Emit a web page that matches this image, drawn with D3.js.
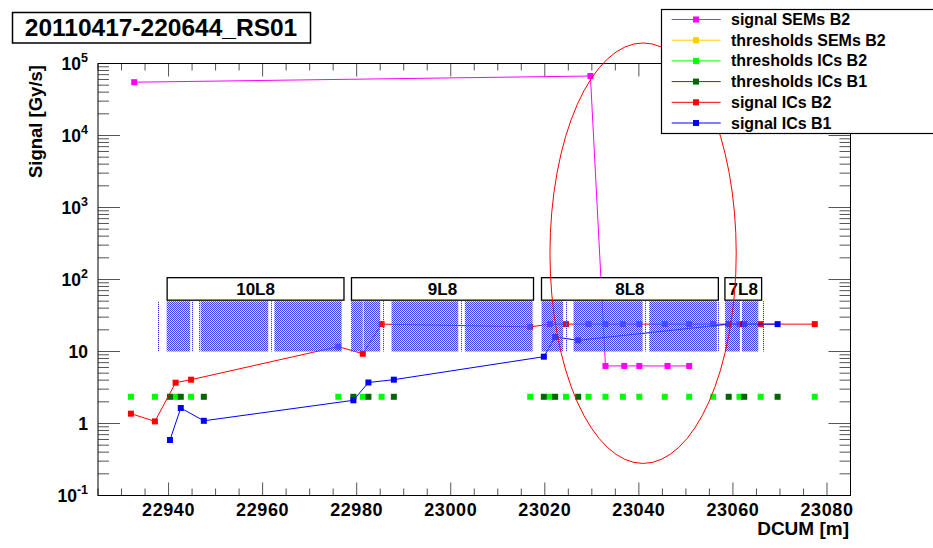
<!DOCTYPE html>
<html><head><meta charset="utf-8">
<script src="https://cdn.jsdelivr.net/npm/d3@7"></script>
<style>
body{margin:0;background:#fff;}
text{font-family:"Liberation Sans",Arial,Helvetica,sans-serif;font-weight:bold;fill:#000;}
</style>
</head><body>
<svg id="chart" width="933" height="548"></svg>
<script>
// ---------------- data ----------------
const titleText = "20110417-220644_RS01";
const xAxisTitle = "DCUM [m]";
const yAxisTitle = "Signal [Gy/s]";
const xTickValues = [22940, 22960, 22980, 23000, 23020, 23040, 23060, 23080];
const yTickExponents = [-1, 0, 1, 2, 3, 4, 5];

const semB2X = [22932.7, 23029.7, 23032.9, 23036.9, 23040.1, 23046.1, 23050.7];
const semB2Y = [55000, 67000, 6.3, 6.3, 6.3, 6.3, 6.3];

const thrSemB2X = [];
const thrSemB2Y = [];

const icB2X = [22932.0, 22937.1, 22941.5, 22944.8, 22976.1, 22981.3, 22985.3, 23016.9, 23021.1, 23024.5,
               23029.3, 23032.9, 23036.6, 23040.1, 23045.5, 23050.7, 23055.8, 23061.4, 23065.9, 23077.4];
const icB2Y = [1.37, 1.07, 3.69, 4.06, 11.7, 9.3, 24, 22, 24, 24,
               24, 24, 24, 24, 24, 24, 24, 24, 24, 24];

const icB1X = [22940.3, 22942.6, 22947.5, 22979.3, 22982.5, 22987.9, 23019.8, 23022.2, 23027.1, 23059.1, 23062.4, 23069.5];
const icB1Y = [0.59, 1.64, 1.09, 2.10, 3.71, 4.06, 8.47, 15.9, 14.3, 24, 24, 24];

const thrIcB2X = [22932.0, 22937.1, 22941.5, 22944.8, 22976.1, 22981.3, 22985.3, 23016.9, 23021.1, 23024.5,
                  23029.3, 23032.9, 23036.6, 23040.1, 23045.5, 23050.7, 23055.8, 23061.4, 23065.9, 23077.4];
const thrIcB2Y = [2.35, 2.35, 2.35, 2.35, 2.35, 2.35, 2.35, 2.35, 2.35, 2.35,
                  2.35, 2.35, 2.35, 2.35, 2.35, 2.35, 2.35, 2.35, 2.35, 2.35];
const thrIcB1X = [22940.3, 22942.6, 22947.5, 22979.3, 22982.5, 22987.9, 23019.8, 23022.2, 23027.1, 23059.1, 23062.4, 23069.5];
const thrIcB1Y = [2.35, 2.35, 2.35, 2.35, 2.35, 2.35, 2.35, 2.35, 2.35, 2.35, 2.35, 2.35];

// magnet (hatched) blocks, DCUM start / end
const magnetStart = [22939.6, 22946.8, 22962.5, 22978.8, 22981.45, 22987.4, 23003.0, 23019.3, 23026.1, 23042.2, 23058.3, 23061.9];
const magnetEnd   = [22944.6, 22961.2, 22976.8, 22981.3, 22985.0, 23001.6, 23017.4, 23023.9, 23040.8, 23056.6, 23061.5, 23065.4];
// thin element markers
const thinElements = [22937.8, 22945.05, 22946.5, 22961.7, 22985.7, 23002.1, 23024.5, 23041.3, 23056.9, 23066.3];
const magnetBandLow = 10, magnetBandHigh = 50, labelBandHigh = 106;

// cell labels
const cellNames = ["10L8", "9L8", "8L8", "7L8"];
const cellStart = [22939.7, 22978.9, 23019.3, 23058.3];
const cellEnd   = [22977.3, 23017.6, 23056.9, 23066.1];

// highlight ellipse (data space)
const ellipseCenterDcum = 23040.9, ellipseCenterSignal = 232, ellipseHalfWidthM = 19.8, ellipseHalfDecades = 2.92;

const legendLabels = ["signal SEMs B2", "thresholds SEMs B2", "thresholds ICs B2", "thresholds ICs B1", "signal ICs B2", "signal ICs B1"];
const legendColors = ["#ff00ff", "#ffcc00", "#00ff00", "#006600", "#ff0000", "#0000ff"];

// ---------------- drawing ----------------
const svg = d3.select("#chart");
const L = 98, R = 850.5, T = 63.5, B = 495.5;
const x = d3.scaleLinear().domain([22925, 23085]).range([L, R]);
const y = d3.scaleLog().domain([0.1, 1e5]).range([B, T]);

const defs = svg.append("defs");
const pat = defs.append("pattern").attr("id", "hatch").attr("patternUnits", "userSpaceOnUse")
  .attr("width", 2).attr("height", 2);
pat.append("rect").attr("x", 0).attr("y", 0).attr("width", 2).attr("height", 2).attr("fill", "rgba(150,150,250,0.38)");
pat.append("rect").attr("x", 0).attr("y", 0).attr("width", 1).attr("height", 1).attr("fill", "#3c3cea");
pat.append("rect").attr("x", 1).attr("y", 1).attr("width", 1).attr("height", 1).attr("fill", "#3c3cea");
const clip = defs.append("clipPath").attr("id", "plotclip");
clip.append("rect").attr("x", L).attr("y", T).attr("width", R - L).attr("height", B - T);

// ticks
const tickG = svg.append("g").attr("stroke", "#555").attr("stroke-width", 1);
const xMinor = d3.range(22925, 23085.1, 5).filter(v => !xTickValues.includes(v));
xTickValues.forEach(v => {
  tickG.append("line").attr("x1", x(v)).attr("x2", x(v)).attr("y1", B).attr("y2", B - 13);
  tickG.append("line").attr("x1", x(v)).attr("x2", x(v)).attr("y1", T).attr("y2", T + 13);
});
xMinor.forEach(v => {
  tickG.append("line").attr("x1", x(v)).attr("x2", x(v)).attr("y1", B).attr("y2", B - 7);
  tickG.append("line").attr("x1", x(v)).attr("x2", x(v)).attr("y1", T).attr("y2", T + 7);
});
yTickExponents.forEach(e => {
  const v = Math.pow(10, e);
  tickG.append("line").attr("x1", L).attr("x2", L + 22).attr("y1", y(v)).attr("y2", y(v));
  tickG.append("line").attr("x1", R).attr("x2", R - 22).attr("y1", y(v)).attr("y2", y(v));
  if (e < 5) {
    for (let k = 2; k <= 9; k++) {
      const m = k * v;
      tickG.append("line").attr("x1", L).attr("x2", L + 11).attr("y1", y(m)).attr("y2", y(m));
      tickG.append("line").attr("x1", R).attr("x2", R - 11).attr("y1", y(m)).attr("y2", y(m));
    }
  }
});

// tick labels
xTickValues.forEach(v => {
  svg.append("text").attr("x", x(v)).attr("y", 515.5).attr("text-anchor", "middle")
    .attr("font-size", 18).attr("letter-spacing", 0.6).text(v);
});
yTickExponents.forEach(e => {
  const t = svg.append("text").attr("x", 88).attr("y", y(Math.pow(10, e)) + 6)
    .attr("text-anchor", "end").attr("font-size", 17.5);
  if (e === 0) t.text("1");
  else if (e === 1) t.text("10");
  else {
    t.append("tspan").text("10");
    t.append("tspan").attr("font-size", 12.5).attr("dy", -8).text(String(e));
  }
});

// axis titles
svg.append("text").attr("x", 849).attr("y", 535).attr("text-anchor", "end").attr("font-size", 19).text(xAxisTitle);
svg.append("text").attr("transform", "translate(42,65) rotate(-90)").attr("text-anchor", "end")
  .attr("font-size", 18.5).text(yAxisTitle);

// series
const plot = svg.append("g").attr("clip-path", "url(#plotclip)");
const line = d3.line().x(d => x(d[0])).y(d => y(d[1]));
function series(xs, ys, color, withLine) {
  const pts = xs.map((v, i) => [v, ys[i]]);
  if (withLine && pts.length) {
    plot.append("path").datum(pts).attr("d", line).attr("fill", "none").attr("stroke", color).attr("stroke-width", 1);
  }
  plot.append("g").selectAll("rect").data(pts).join("rect")
    .attr("x", d => x(d[0]) - 3).attr("y", d => y(d[1]) - 3)
    .attr("width", 6).attr("height", 6).attr("fill", color);
}
series(semB2X, semB2Y, legendColors[0], true);
series(thrSemB2X, thrSemB2Y, legendColors[1], false);
series(thrIcB2X, thrIcB2Y, legendColors[2], false);
series(thrIcB1X, thrIcB1Y, legendColors[3], false);
series(icB2X, icB2Y, legendColors[4], true);
series(icB1X, icB1Y, legendColors[5], true);

// magnets (hatched) on top
const mag = svg.append("g");
magnetStart.forEach((s, i) => {
  mag.append("rect").attr("x", x(s)).attr("y", y(magnetBandHigh))
    .attr("width", x(magnetEnd[i]) - x(s)).attr("height", y(magnetBandLow) - y(magnetBandHigh))
    .attr("fill", "url(#hatch)");
});
thinElements.forEach(s => {
  mag.append("rect").attr("x", Math.round(x(s))).attr("y", y(magnetBandHigh))
    .attr("width", 1).attr("height", y(magnetBandLow) - y(magnetBandHigh))
    .attr("fill", "url(#hatch)");
});
// cell label boxes
cellNames.forEach((n, i) => {
  const x0 = x(cellStart[i]), x1 = x(cellEnd[i]);
  svg.append("rect").attr("x", x0).attr("y", y(labelBandHigh)).attr("width", x1 - x0)
    .attr("height", y(magnetBandHigh) - y(labelBandHigh) - 1)
    .attr("fill", "#fff").attr("stroke", "#000").attr("stroke-width", 1.3);
  svg.append("text").attr("x", (x0 + x1) / 2).attr("y", 295).attr("text-anchor", "middle")
    .attr("font-size", 17).text(n);
});

// frame
svg.append("rect").attr("x", L).attr("y", T).attr("width", R - L).attr("height", B - T)
  .attr("fill", "none").attr("stroke", "#000").attr("stroke-width", 1);

// ellipse
const ecx = x(ellipseCenterDcum), ecy = y(ellipseCenterSignal);
svg.append("ellipse").attr("cx", ecx).attr("cy", ecy)
  .attr("rx", x(ellipseCenterDcum + ellipseHalfWidthM) - ecx)
  .attr("ry", y(ellipseCenterSignal / Math.pow(10, ellipseHalfDecades)) - ecy)
  .attr("fill", "none").attr("stroke", "#ff0000").attr("stroke-width", 1);

// title box
svg.append("rect").attr("x", 12.5).attr("y", 12.5).attr("width", 298).attr("height", 30.5)
  .attr("fill", "#fff").attr("stroke", "#000").attr("stroke-width", 1.5);
svg.append("text").attr("x", 161).attr("y", 35.7).attr("text-anchor", "middle").attr("font-size", 24.5).text(titleText);

// legend
svg.append("rect").attr("x", 661.5).attr("y", 9.5).attr("width", 290).attr("height", 124)
  .attr("fill", "#fff").attr("stroke", "#000").attr("stroke-width", 1.2);
legendLabels.forEach((lab, i) => {
  const cy = 19.5 + i * 20.7;
  svg.append("line").attr("x1", 671.7).attr("x2", 720.7).attr("y1", cy).attr("y2", cy)
    .attr("stroke", legendColors[i]).attr("stroke-width", 1);
  svg.append("rect").attr("x", 693).attr("y", cy - 3).attr("width", 6).attr("height", 6).attr("fill", legendColors[i]);
  svg.append("text").attr("x", 731).attr("y", cy + 5.5).attr("font-size", 16).text(lab);
});
</script>
</body></html>
